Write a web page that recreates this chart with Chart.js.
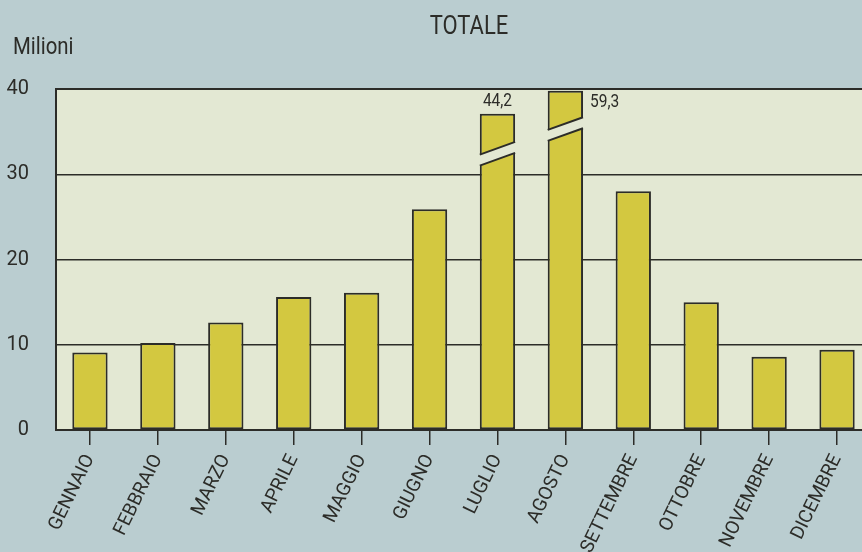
<!DOCTYPE html>
<html lang="it">
<head>
<meta charset="utf-8">
<title>Totale</title>
<script src="https://cdn.jsdelivr.net/npm/chart.js@4.4.1/dist/chart.umd.min.js"></script>
<style>
  html, body { margin:0; padding:0; overflow:hidden; background:#bacdd0; }
  #box { position:relative; width:880px; height:552px; }
</style>
</head>
<body>
<div id="box"><canvas id="grafico" width="880" height="552"></canvas></div>
<script>
/* Totale mensile (milioni) - barre interrotte per luglio e agosto */
const mesi   = ["GENNAIO","FEBBRAIO","MARZO","APRILE","MAGGIO","GIUGNO","LUGLIO","AGOSTO","SETTEMBRE","OTTOBRE","NOVEMBRE","DICEMBRE"];
const valori = [9.1, 10.2, 12.6, 15.6, 16.1, 25.9, 44.2, 59.3, 28.0, 15.0, 8.6, 9.4];
// barre fuori scala: altezza disegnata e livello dell'interruzione (in milioni)
const altezzaTaglio = [null, null, null, null, null, null, 37.1, 39.8, null, null, null, null];
const livelloTaglio = [null, null, null, null, null, null, 32.4, 35.3, null, null, null, null];
const tickY  = [0, 10, 20, 30, 40];
const titolo = "TOTALE";
const unita  = "Milioni";

const FONT = 'Roboto, "Liberation Sans", Arial, sans-serif';
const INK = "#2c2c28";
const FONDO_PLOT = "#e3e8d3";
const BARRA = "#d3c840";

const virgola = v => String(v).replace(".", ",");

// testo "stretto" come nell'originale (carattere condensato)
function testoStretto(ctx, txt, x, y, size, align, k){
  ctx.save();
  ctx.font = size + "px " + FONT;
  ctx.textAlign = align;
  ctx.textBaseline = "middle";
  ctx.translate(x, y);
  ctx.scale(k, 1);
  ctx.fillText(txt, 0, 0);
  ctx.restore();
}

const decoro = {
  id: "decoro",
  beforeDraw(chart){
    const {ctx, chartArea:a} = chart;
    ctx.save();
    ctx.fillStyle = FONDO_PLOT;
    ctx.fillRect(a.left, a.top, a.right-a.left, a.bottom-a.top);
    ctx.restore();
  },
  afterDatasetsDraw(chart){
    const {ctx} = chart;
    const ys = chart.scales.y;
    const bars = chart.getDatasetMeta(0).data;
    ctx.save();
    bars.forEach((el, i) => {
      if (livelloTaglio[i] == null) return;
      const xc = el.x, w = el.width, yb = ys.getPixelForValue(livelloTaglio[i]);
      const gap = 11, s = 0.36;
      const yUp = x => yb - gap/2 - s*(x-xc);
      const yLo = x => yb + gap/2 - s*(x-xc);
      const xl = xc - w/2, xr = xc + w/2;
      ctx.fillStyle = FONDO_PLOT;
      ctx.beginPath();
      ctx.moveTo(xl-2, yUp(xl-2)); ctx.lineTo(xr+2, yUp(xr+2));
      ctx.lineTo(xr+2, yLo(xr+2)); ctx.lineTo(xl-2, yLo(xl-2));
      ctx.closePath(); ctx.fill();
      ctx.strokeStyle = INK; ctx.lineWidth = 2;
      ctx.beginPath();
      ctx.moveTo(xl, yUp(xl)); ctx.lineTo(xr, yUp(xr));
      ctx.moveTo(xl, yLo(xl)); ctx.lineTo(xr, yLo(xr));
      ctx.stroke();
      // valore reale sopra o a lato della barra
      ctx.fillStyle = INK;
      const top = el.y;
      if (top - chart.chartArea.top > 16) testoStretto(ctx, virgola(valori[i]), xc, top - 12, 18, "center", 0.86);
      else testoStretto(ctx, virgola(valori[i]), xr + 7, top + 12, 18, "left", 0.86);
    });
    ctx.restore();
  },
  afterDraw(chart){
    const {ctx, chartArea:a} = chart;
    ctx.save();
    ctx.strokeStyle = INK; ctx.lineWidth = 2;
    ctx.strokeRect(a.left, a.top, a.right-a.left, a.bottom-a.top);
    ctx.fillStyle = INK;
    testoStretto(ctx, titolo, 469, 28, 25, "center", 0.88);
    testoStretto(ctx, unita, 13, 48, 24, "left", 0.85);
    ctx.restore();
  }
};

new Chart(document.getElementById("grafico"), {
  type: "bar",
  data: {
    labels: mesi,
    datasets: [{
      data: valori.map((v,i) => altezzaTaglio[i] ?? v),
      backgroundColor: BARRA,
      borderColor: INK,
      borderWidth: 2,
      borderSkipped: false,
      barPercentage: 0.52,
      categoryPercentage: 1
    }]
  },
  options: {
    responsive: false,
    animation: false,
    layout: { padding: { top: 89, right: 9, left: 0, bottom: 0 } },
    plugins: { legend: { display:false }, tooltip: { enabled:false } },
    scales: {
      x: {
        afterFit: s => { s.height = 122; },
        border: { display:false },
        grid: { offset:false, drawOnChartArea:false, tickLength:15, color:INK, lineWidth:1.5 },
        ticks: { color:INK, font:{ family:FONT, size:19 }, minRotation:64, maxRotation:64, padding:6, autoSkip:false }
      },
      y: {
        min: 0, max: 40, z: 1,
        afterFit: s => { s.width = 56; },
        afterBuildTicks: s => { s.ticks = tickY.map(v => ({ value:v })); },
        border: { display:false },
        grid: { color:INK, lineWidth:1.5, drawTicks:false },
        ticks: { color:INK, font:{ family:FONT, size:20 }, padding:27 }
      }
    }
  },
  plugins: [decoro]
});
</script>
</body>
</html>
